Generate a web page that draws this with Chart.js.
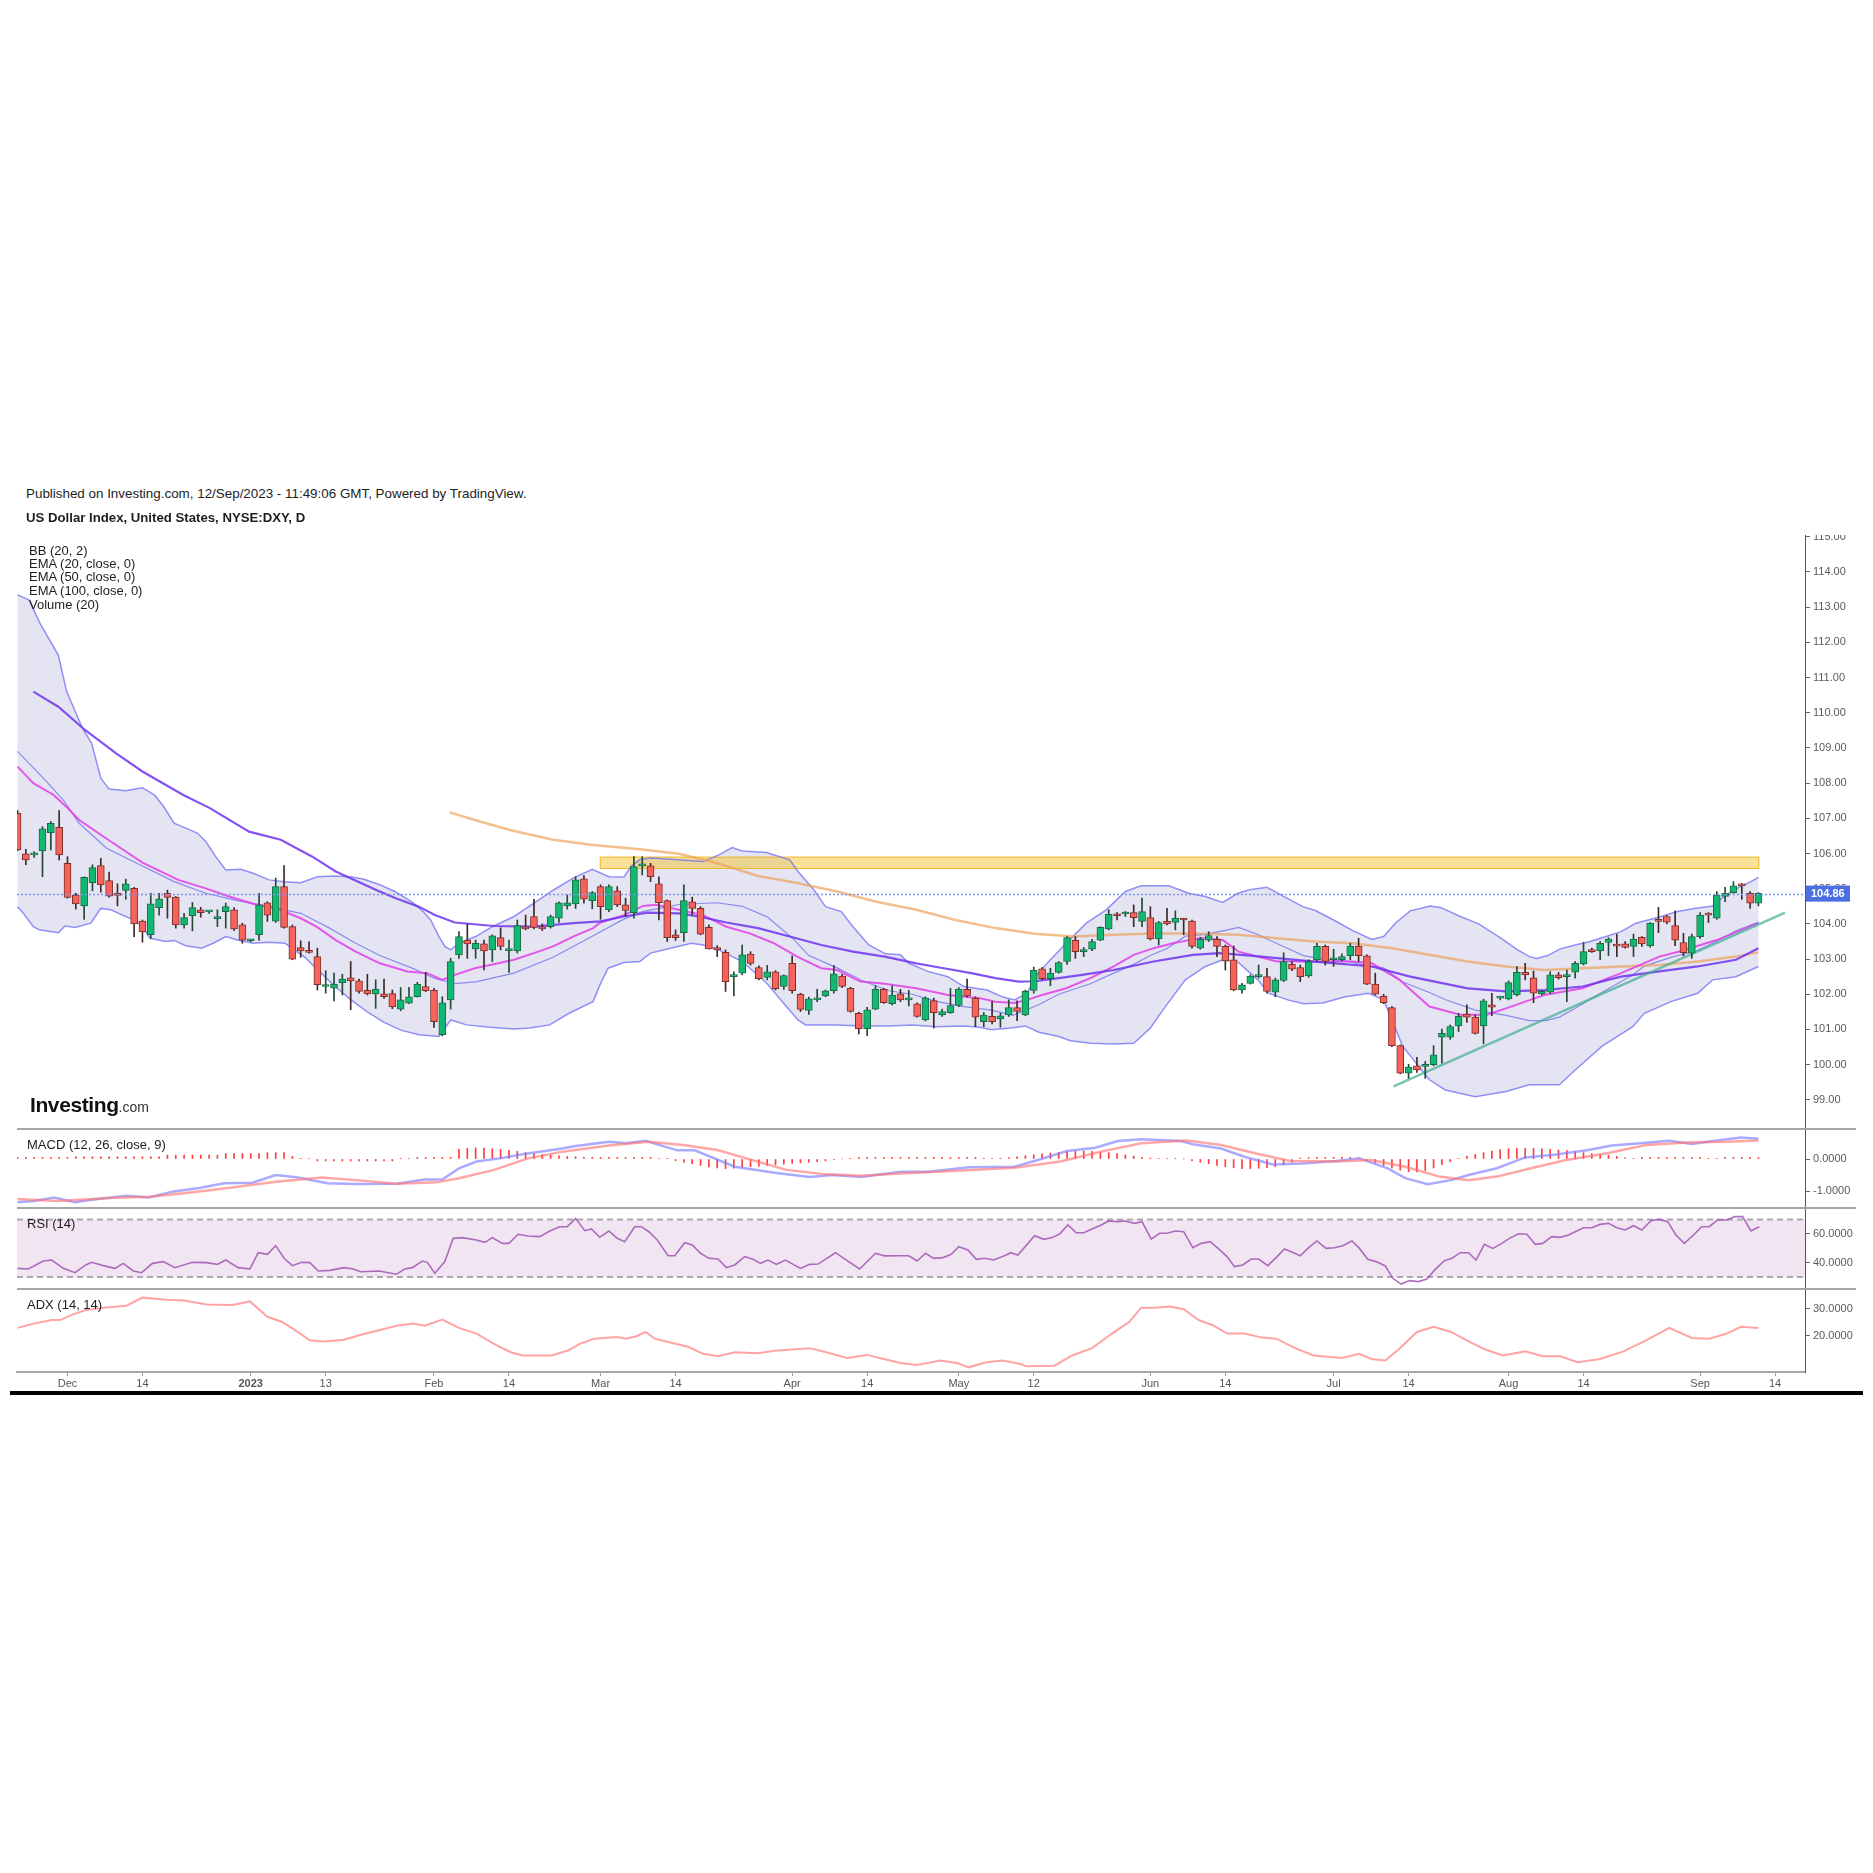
<!DOCTYPE html>
<html><head><meta charset="utf-8">
<script src="https://cdn.jsdelivr.net/npm/chart.js@4.4.1/dist/chart.umd.min.js"></script>
<style>
html,body{margin:0;padding:0;background:#fff;}
#wrap{position:relative;width:1873px;height:1873px;overflow:hidden;background:#fff;font-family:"Liberation Sans",Arial,Helvetica,sans-serif;}
canvas{position:absolute;left:0;}
.t{position:absolute;white-space:nowrap;color:#1e1e1e;font-size:13px;line-height:14px;z-index:5;}
.sep{position:absolute;background:#a6a6a6;height:2px;z-index:4;}
</style></head><body><div id="wrap">
<div class="t" style="left:26px;top:487px;font-size:13.4px;">Published on Investing.com, 12/Sep/2023 - 11:49:06 GMT, Powered by TradingView.</div>
<div class="t" style="left:26px;top:511px;font-weight:bold;font-size:13.2px;">US Dollar Index, United States, NYSE:DXY, D</div>
<div class="t" style="left:29px;top:544px;">BB (20, 2)</div>
<div class="t" style="left:29px;top:557px;">EMA (20, close, 0)</div>
<div class="t" style="left:29px;top:570px;">EMA (50, close, 0)</div>
<div class="t" style="left:29px;top:584px;">EMA (100, close, 0)</div>
<div class="t" style="left:29px;top:598px;">Volume (20)</div>
<div class="t" style="left:30px;top:1093px;line-height:24px;color:#111;"><span style="font-weight:bold;font-size:21px;letter-spacing:-0.4px;">Investing</span><span style="font-size:14px;color:#333;">.com</span></div>
<div class="t" style="left:27px;top:1138px;">MACD (12, 26, close, 9)</div>
<div class="t" style="left:27px;top:1217px;">RSI (14)</div>
<div class="t" style="left:27px;top:1298px;">ADX (14, 14)</div>
<canvas id="cMain" width="1873" height="593" style="top:535px"></canvas>
<canvas id="cMacd" width="1873" height="80" style="top:1128px"></canvas>
<canvas id="cRsi" width="1873" height="81" style="top:1208px"></canvas>
<canvas id="cAdx" width="1873" height="106" style="top:1289px"></canvas>
<div class="sep" style="left:17px;top:1128px;width:1839px;"></div>
<div class="sep" style="left:17px;top:1207px;width:1839px;"></div>
<div class="sep" style="left:17px;top:1288px;width:1839px;"></div>
<div style="position:absolute;left:10px;top:1391px;width:1853px;height:4px;background:#000;"></div>
</div>
<script>
// ---------------- DATA ----------------
const xTickIdx = [6,15,28,37,50,59,70,79,93,102,113,122,136,145,158,167,179,188,202,211];
const xTickLabels = ['Dec','14','2023','13','Feb','14','Mar','14','Apr','14','May','12','Jun','14','Jul','14','Aug','14','Sep','14'];
const priceTicks = [99,100,101,102,103,104,105,106,107,108,109,110,111,112,113,114,115];
const macdTicks = [0,-1];
const rsiTicks = [60,40];
const adxTicks = [30,20];
const lastPrice = 104.86;
const zoneX = [69.9, 209.1];
const zoneY = [105.56, 105.91];
const trendLine = [[165.2,99.38],[212.2,104.32]];

const opens = [
107.14,105.99,105.96,106.07,106.59,106.74,105.72,104.82,104.51,105.17,
105.66,105.23,104.87,104.95,105.01,104.08,103.69,104.46,104.87,104.76,
103.97,104.23,104.40,104.34,104.15,104.35,104.40,103.97,103.52,103.69,
104.60,104.08,105.06,103.92,103.33,103.24,103.07,102.22,102.17,102.33,
102.47,102.38,102.11,102.01,102.01,102.02,101.58,101.75,101.93,102.22,
102.11,100.85,101.84,103.12,103.54,103.29,103.43,103.26,103.61,103.24,
103.23,103.90,104.21,103.90,103.92,104.16,104.51,104.57,105.28,104.66,
105.06,104.40,104.94,104.54,104.32,105.65,105.65,105.14,104.66,103.69,
103.75,104.63,104.44,103.90,103.33,103.19,102.50,102.60,103.14,102.76,
102.48,102.64,102.22,102.88,102.00,101.54,101.84,101.95,102.10,102.52,
102.17,101.46,101.02,101.58,102.14,101.73,102.01,101.84,101.73,101.27,
101.82,101.41,101.48,101.68,102.14,101.89,101.22,101.37,101.30,101.41,
101.62,101.41,102.11,102.72,102.44,102.62,102.93,103.53,103.21,103.28,
103.54,103.86,104.27,104.28,104.32,104.07,104.18,103.57,104.07,104.04,
104.14,104.08,103.31,103.54,103.56,103.36,102.98,102.12,102.31,102.50,
102.50,102.06,102.39,102.85,102.76,102.52,102.98,103.36,102.98,102.98,
103.10,103.37,103.09,102.29,101.95,101.62,100.54,99.76,99.97,99.95,
100.00,100.78,100.78,101.10,101.44,101.35,101.10,101.70,101.89,101.87,
101.98,102.62,102.47,102.01,102.06,102.55,102.50,102.63,102.86,103.26,
103.23,103.47,103.42,103.43,103.36,103.62,103.38,104.13,104.21,103.95,
103.47,103.17,103.64,104.30,104.16,104.78,104.89,105.11,104.87,104.59];
const closes = [
106.10,105.82,105.96,106.70,106.86,105.96,104.75,104.57,105.32,105.60,
105.11,104.79,104.81,105.14,104.00,103.77,104.57,104.71,104.75,103.97,
104.18,104.46,104.32,104.34,104.21,104.49,103.86,103.54,103.52,104.54,
104.25,105.06,103.90,103.00,103.23,103.19,102.27,102.22,102.29,102.43,
102.38,102.08,102.01,102.15,101.93,101.64,101.84,101.93,102.29,102.10,
101.22,101.76,102.93,103.64,103.43,103.45,103.23,103.66,103.36,103.24,
103.95,103.86,103.90,103.86,104.21,104.60,104.60,105.25,104.70,104.89,
104.49,105.06,104.54,104.38,105.63,105.69,105.34,104.60,103.61,103.61,
104.66,104.44,103.71,103.29,103.26,102.36,102.55,103.12,102.88,102.44,
102.64,102.16,102.53,102.10,101.57,101.87,101.84,102.10,102.58,102.22,
101.51,101.02,101.56,102.14,101.76,101.98,101.84,101.84,101.37,101.89,
101.48,101.51,101.68,102.15,101.95,101.35,101.41,101.22,101.39,101.62,
101.51,102.08,102.69,102.44,102.60,102.90,103.61,103.21,103.21,103.50,
103.90,104.27,104.23,104.28,104.18,104.35,103.57,104.04,104.00,104.16,
104.11,103.36,103.56,103.67,103.36,102.95,102.12,102.27,102.52,102.55,
102.08,102.41,102.93,102.71,102.50,102.93,103.36,102.93,102.98,103.07,
103.37,103.10,102.29,102.00,101.76,100.54,99.76,99.93,99.85,99.95,
100.28,100.89,101.08,101.37,101.35,100.89,101.81,101.63,101.89,102.33,
102.62,102.55,102.03,102.08,102.55,102.47,102.50,102.88,103.21,103.21,
103.45,103.57,103.37,103.33,103.57,103.43,104.02,104.07,104.05,103.54,
103.18,103.64,104.25,104.25,104.82,104.87,105.08,105.08,104.59,104.87];
const highs = [
107.22,106.12,106.05,106.76,106.91,107.22,105.91,104.87,105.34,105.68,
105.86,105.47,105.14,105.27,105.04,104.11,104.87,104.87,104.96,104.78,
104.30,104.61,104.47,104.38,104.40,104.59,104.46,104.02,103.55,104.87,
104.63,105.30,105.66,103.97,103.52,103.49,103.31,102.67,102.60,102.57,
102.93,102.43,102.57,102.41,102.43,102.12,102.19,102.20,102.34,102.62,
102.17,101.93,103.02,103.78,103.99,103.54,103.54,103.69,103.89,103.54,
104.11,104.25,104.70,104.00,104.25,104.63,104.82,105.34,105.37,104.92,
105.11,105.11,105.06,104.73,105.91,105.91,105.72,105.34,104.68,103.83,
105.11,104.76,104.49,103.97,103.38,103.26,102.64,103.40,103.21,102.81,
102.82,102.67,102.55,103.09,102.03,101.92,102.14,102.12,102.82,102.57,
102.20,101.49,101.63,102.25,102.17,102.24,102.14,102.11,101.76,101.93,
101.89,101.58,102.17,102.19,102.43,101.93,101.48,101.79,101.46,101.84,
101.81,102.12,102.77,102.76,102.74,102.93,103.64,103.64,103.33,103.56,
103.92,104.40,104.32,104.35,104.54,104.73,104.49,104.07,104.44,104.37,
104.16,104.11,103.62,103.78,103.64,103.40,103.37,102.31,102.55,102.83,
102.74,102.46,103.18,102.93,102.83,102.98,103.45,103.40,103.28,103.15,
103.45,103.59,103.12,102.60,102.00,101.65,100.56,100.01,100.21,100.09,
100.54,101.01,101.13,101.46,101.70,101.41,101.86,102.03,101.93,102.38,
102.79,102.88,102.66,102.12,102.64,102.62,102.69,102.93,103.47,103.31,
103.50,103.61,103.71,103.50,103.71,103.64,104.04,104.47,104.24,104.37,
103.73,103.71,104.32,104.32,104.92,105.04,105.20,105.15,104.92,104.89];
const lows = [
106.08,105.68,105.89,105.34,106.10,105.82,104.73,104.42,104.13,104.94,
104.90,104.76,104.51,104.70,103.64,103.48,103.59,104.25,104.16,103.88,
103.88,103.80,104.19,104.30,103.92,103.88,103.81,103.45,103.49,103.53,
104.07,104.04,103.88,102.98,103.05,103.17,102.12,102.03,101.81,101.98,
101.56,102.03,101.98,101.60,101.88,101.59,101.53,101.73,101.92,102.07,
101.06,100.82,101.58,103.02,103.02,103.02,102.69,102.93,103.26,102.62,
103.17,103.83,103.86,103.81,103.88,104.04,104.42,104.44,104.59,104.43,
104.13,104.35,104.49,104.21,104.16,105.39,105.20,104.11,103.50,103.53,
103.50,104.25,103.69,103.28,103.07,102.08,101.95,102.55,102.83,102.41,
102.41,102.12,102.14,102.03,101.51,101.43,101.79,101.93,102.03,102.19,
101.49,100.87,100.82,101.56,101.74,101.70,101.79,101.67,101.35,101.24,
101.04,101.37,101.46,101.65,101.92,101.08,101.08,101.16,101.06,101.37,
101.25,101.39,102.03,102.41,102.24,102.60,102.85,103.02,103.07,103.24,
103.52,103.83,104.11,104.21,103.92,103.92,103.54,103.40,103.97,103.83,
103.69,103.31,103.28,103.50,103.07,102.69,102.10,102.03,102.29,102.46,
102.03,101.93,102.36,102.67,102.36,102.48,102.93,102.83,102.79,102.95,
102.98,102.93,102.27,101.98,101.73,100.51,99.74,99.61,99.78,99.61,
99.97,100.04,100.72,100.94,101.20,100.87,100.59,101.39,101.84,101.84,
101.95,102.41,101.76,101.98,102.03,102.43,101.79,102.46,102.83,103.19,
102.98,103.10,103.07,103.31,103.07,103.36,103.34,103.75,104.00,103.38,
103.09,103.02,103.59,104.04,104.13,104.63,104.87,104.70,104.44,104.51];

const bbUpper = [[0,113.35],[1.4,113.2],[2.7,112.54],[4.9,111.64],[5.9,110.6],[7.8,109.56],[8.9,109.13],[10,108.14],[11,107.83],[13,107.78],[15,107.87],[16.5,107.65],[17.5,107.35],[18.8,106.86],[20.2,106.72],[21.6,106.58],[22.6,106.34],[23.8,105.91],[25,105.53],[26.8,105.55],[28.3,105.44],[30.2,105.25],[32,105.2],[34,105.17],[36,105.34],[38,105.36],[40,105.34],[41.6,105.27],[43.5,105.11],[45.3,104.92],[47.3,104.63],[48.7,104.35],[49.6,104.11],[50.6,103.64],[51.3,103.36],[52,103.26],[53,103.45],[55,103.64],[57,103.92],[59.6,104.21],[62,104.59],[64.4,104.97],[66.7,105.30],[69,105.55],[71,105.34],[72.8,105.33],[73.7,105.65],[74.7,105.82],[76,105.87],[79.4,105.82],[82.3,105.77],[84.2,105.96],[85.8,106.17],[87,106.07],[89.9,106.03],[92.7,105.82],[93.7,105.49],[95.6,104.97],[97,104.49],[98.9,104.35],[100.3,103.92],[102.2,103.40],[104.2,103.15],[106,103.12],[107,102.88],[109.3,102.65],[111.7,102.50],[113.6,102.22],[116.4,102.12],[118.3,101.92],[119.7,101.84],[121.2,102.03],[122.2,102.50],[123.6,102.88],[125.9,103.45],[128.3,104.02],[130.7,104.40],[133,104.92],[134.9,105.08],[138.2,105.08],[140.6,104.87],[142.6,104.78],[144.7,104.61],[146.5,104.87],[147.9,104.97],[150,105.04],[152,104.78],[154.3,104.49],[155.8,104.38],[158,104.11],[160.3,103.81],[162.6,103.56],[164,103.64],[165.4,104.02],[167.2,104.37],[169.6,104.51],[170.9,104.46],[173.2,104.21],[175.4,104.00],[177.8,103.64],[180.1,103.26],[181.5,103.07],[182.4,103.02],[183.7,103.10],[185.2,103.29],[187,103.40],[188.8,103.50],[190.7,103.64],[192.5,103.78],[194.3,104.02],[197,104.19],[199.3,104.35],[201.3,104.44],[203.5,104.51],[204.9,104.78],[206.8,105.06],[208.1,105.20],[209,105.32]];
const bbLower = [[0,104.49],[0.7,104.30],[1.9,103.92],[2.6,103.83],[4.9,103.75],[5.7,103.94],[6.9,103.90],[8.8,104.02],[10,104.44],[11.2,104.40],[12.6,104.25],[14,104.11],[15,103.92],[15.9,103.59],[17.8,103.50],[18.8,103.53],[20.2,103.38],[22.1,103.31],[23.5,103.45],[25,103.64],[26.4,103.54],[28.3,103.45],[30.2,103.48],[32.1,103.45],[33,103.3],[34.5,103.05],[36,102.7],[38,102.25],[40,101.85],[42,101.5],[44,101.2],[46,100.98],[48.2,100.85],[49.6,100.82],[50.6,100.80],[52,101.27],[53.9,101.13],[56.7,101.06],[59.6,101.01],[61.5,101.04],[63.9,101.13],[66.2,101.46],[69.1,101.79],[70,102.31],[70.9,102.74],[72.8,102.90],[74.7,102.93],[76,103.17],[78.4,103.31],[80.9,103.45],[82.3,103.40],[84.2,103.26],[87,102.93],[89.9,102.33],[92.3,101.65],[93.7,101.27],[94.6,101.13],[98.4,101.13],[101.3,101.10],[104.6,101.10],[107.4,101.13],[110.3,101.08],[113.6,101.10],[115.5,101.06],[116.9,100.99],[119.3,101.04],[121,101.10],[122.6,100.92],[125,100.80],[126.4,100.68],[128.8,100.61],[131.6,100.59],[134,100.61],[136,101.04],[137.8,101.65],[140.2,102.41],[142.6,102.79],[144.7,102.98],[146.6,102.90],[148.9,102.41],[150.2,102.03],[152.5,101.84],[154.4,101.73],[156.7,101.75],[159.4,101.93],[162.2,102.03],[164,101.84],[166.3,100.52],[169.5,99.57],[171.4,99.28],[175,99.09],[178.7,99.24],[181.5,99.43],[185.1,99.43],[187,99.85],[190.2,100.52],[193.9,101.08],[195.3,101.46],[198.5,101.79],[201.7,102.03],[203.5,102.41],[206.3,102.50],[209,102.79]];
const bbBasis = [[0,108.9],[3.3,108.09],[5.5,107.52],[7.4,106.86],[10.7,106.15],[14.5,105.7],[18.8,105.2],[22.6,104.87],[26.4,104.66],[30.2,104.49],[34,104.3],[37.3,103.9],[40.6,103.45],[43.5,103.1],[47.3,102.75],[50.1,102.45],[52.5,102.3],[55,102.35],[59.6,102.6],[64.3,103.05],[69,103.65],[72.5,104.1],[75,104.35],[79.4,104.55],[84,104.6],[87,104.5],[90,104.2],[93,103.6],[95,103.1],[98.4,102.75],[101.3,102.4],[104.6,102.1],[107.4,102.0],[110.3,101.8],[113.6,101.65],[116.9,101.55],[119.5,101.4],[122.6,101.7],[125,102.0],[128.8,102.3],[131.6,102.6],[134,102.85],[136,103.1],[138,103.3],[140.2,103.65],[142.6,103.7],[144.7,103.8],[146.6,103.9],[148.9,103.7],[150.2,103.55],[152.5,103.3],[154.4,103.1],[156.7,103.0],[159.4,102.95],[162.2,102.8],[164,102.75],[166.3,102.35],[169.5,102.05],[171.4,101.85],[175,101.55],[178.7,101.4],[181.5,101.25],[183.5,101.25],[185.1,101.35],[187,101.6],[190.2,102.05],[193.9,102.55],[195.3,102.8],[198.5,103.05],[201.7,103.25],[203.5,103.45],[206.3,103.8],[209,104.05]];
const ema20 = [[0,108.47],[1.9,108.0],[4.3,107.67],[6,107.3],[7.4,106.95],[11.2,106.34],[15,105.74],[19.3,105.25],[22.6,105.01],[25.4,104.78],[28.3,104.57],[31.1,104.44],[34,104.16],[35.9,103.92],[38.2,103.54],[40.6,103.21],[43.5,102.88],[46.8,102.65],[49.2,102.60],[51,102.41],[52.5,102.55],[54.9,102.74],[57.7,102.88],[59.6,102.98],[62,103.17],[64.3,103.36],[66.7,103.64],[69.1,103.88],[70,104.04],[72.8,104.25],[75.1,104.51],[76.6,104.54],[79.4,104.40],[82.3,104.25],[85.1,103.92],[87.9,103.73],[90.8,103.45],[93.6,103.07],[96.5,102.74],[98.4,102.69],[101.2,102.36],[104.1,102.30],[107.9,102.17],[111.7,101.98],[115.5,101.89],[117.4,101.79],[119.7,101.75],[121.2,101.84],[123,101.98],[125.9,102.17],[128.8,102.46],[131.6,102.79],[134,103.12],[136.4,103.31],[138.7,103.45],[141.1,103.56],[142,103.6],[144.7,103.54],[146.6,103.21],[148.9,103.07],[151.2,102.93],[160.3,102.93],[162.6,102.88],[165.9,102.41],[169.5,101.65],[173.2,101.42],[176.4,101.42],[178.7,101.60],[181,101.79],[183.3,101.98],[187.9,102.17],[192.5,102.60],[197.1,103.07],[199.4,103.21],[204,103.54],[209,104.02]];
const ema50 = [[1.9,110.6],[4.9,110.17],[8.1,109.51],[11.8,108.85],[15,108.33],[19.9,107.66],[23.1,107.29],[27.8,106.62],[31.6,106.39],[35.4,105.91],[38.2,105.49],[43,104.97],[45.4,104.73],[48.2,104.49],[50.1,104.25],[52.5,104.04],[57.2,103.94],[62,103.92],[66.7,104.02],[70,104.07],[72.8,104.21],[75.6,104.32],[79.4,104.30],[81.8,104.21],[85.1,104.04],[88.9,103.88],[92.7,103.64],[96.5,103.40],[100.3,103.21],[104.1,103.07],[107.9,102.88],[111.2,102.74],[114.5,102.60],[117.4,102.46],[120.2,102.36],[122.1,102.37],[125,102.46],[127.8,102.55],[131.6,102.69],[136.4,102.93],[141.1,103.12],[144.3,103.17],[148,103.1],[155.7,102.93],[162.6,102.79],[167.2,102.50],[174.1,102.17],[178.7,102.08],[183.3,102.12],[187.9,102.22],[192.5,102.50],[197.1,102.65],[201.7,102.79],[206.3,102.98],[209,103.31]];
const ema100 = [[51.9,107.17],[54.9,106.95],[59.1,106.67],[64.3,106.39],[69.1,106.24],[74.7,106.12],[79.4,105.99],[84.1,105.72],[88.9,105.36],[93.6,105.16],[98.4,104.92],[103.1,104.63],[107.9,104.40],[112.6,104.11],[117.4,103.88],[122.1,103.72],[126.9,103.64],[131.6,103.69],[136.4,103.73],[141.1,103.73],[146.6,103.69],[151.2,103.59],[155.7,103.50],[160.3,103.45],[165,103.31],[169.5,103.12],[174.1,102.93],[178.7,102.79],[183.3,102.69],[187.9,102.74],[192.5,102.79],[197.1,102.83],[201.7,102.93],[206.3,103.07],[209,103.19]];

const macdLine = [[0,-1.35],[2,-1.31],[4.4,-1.20],[6.9,-1.35],[9.6,-1.25],[13.1,-1.15],[15.8,-1.20],[18.6,-1.02],[22,-0.90],[24.8,-0.76],[28.2,-0.74],[31,-0.50],[33.7,-0.58],[37.2,-0.76],[40.6,-0.78],[45.5,-0.77],[48.9,-0.64],[51,-0.64],[53,-0.29],[55.1,-0.08],[57.9,0.02],[60.6,0.15],[62.7,0.23],[65.4,0.33],[66.8,0.40],[71,0.54],[73,0.49],[75.4,0.57],[79.2,0.27],[81.3,0.27],[86.1,-0.24],[90.9,-0.43],[95.1,-0.56],[97.8,-0.50],[101.3,-0.56],[106,-0.40],[109.4,-0.40],[114.2,-0.26],[119.7,-0.24],[122.5,-0.03],[126,0.25],[129.4,0.35],[132.1,0.56],[134.9,0.62],[139.7,0.56],[141.1,0.46],[144.5,0.33],[147.3,0.07],[150.7,-0.17],[154.2,-0.14],[158.3,-0.06],[161.1,0.02],[164.5,-0.29],[166.6,-0.60],[169.3,-0.79],[172.1,-0.66],[174.2,-0.50],[177.6,-0.29],[181,0.05],[184.5,0.13],[188.6,0.28],[191.4,0.42],[194.8,0.49],[198.3,0.57],[201,0.47],[203.8,0.57],[206.9,0.67],[209,0.63]];
const signalLine = [[0,-1.25],[4.8,-1.31],[11.7,-1.21],[15.8,-1.18],[20,-1.07],[25.5,-0.90],[31,-0.71],[36.5,-0.58],[40.6,-0.66],[45.5,-0.77],[50.3,-0.73],[53,-0.60],[57.2,-0.34],[61.3,0.02],[65.4,0.23],[71,0.42],[75.8,0.54],[79.9,0.44],[84,0.28],[87.5,0.02],[92.3,-0.34],[97.1,-0.48],[101.3,-0.52],[106,-0.45],[112.8,-0.37],[119.7,-0.27],[125.2,-0.08],[130.1,0.23],[134.9,0.49],[140.4,0.58],[144.5,0.44],[148.7,0.17],[152.8,-0.06],[158.3,-0.08],[162.5,-0.03],[166.6,-0.24],[170.7,-0.55],[174.2,-0.66],[177.6,-0.55],[181.7,-0.29],[185.9,-0.03],[190.7,0.17],[195.5,0.44],[201,0.52],[205.2,0.54],[209,0.58]];
const macdHist = [
0.05,0.05,0.05,0.05,0.05,0.05,0.05,0.07,0.07,0.07,
0.07,0.07,0.07,0.07,0.07,0.07,0.07,0.07,0.12,0.12,
0.12,0.12,0.12,0.12,0.12,0.17,0.17,0.17,0.17,0.17,
0.20,0.20,0.20,0.08,0.02,0.02,-0.06,-0.06,-0.06,-0.06,
-0.06,-0.06,-0.06,-0.06,-0.06,-0.06,0.01,0.01,0.05,0.05,
0.05,0.05,0.05,0.30,0.33,0.35,0.34,0.32,0.30,0.27,
0.24,0.20,0.17,0.14,0.12,0.10,0.08,0.07,0.05,0.05,
0.05,0.05,0.05,0.05,0.05,0.05,0.05,0.01,0.01,-0.05,
-0.10,-0.15,-0.20,-0.25,-0.28,-0.30,-0.29,-0.26,-0.24,-0.22,
-0.20,-0.18,-0.16,-0.14,-0.12,-0.10,-0.08,-0.06,-0.02,0.00,
0.01,0.05,0.05,0.05,0.05,0.05,0.05,0.05,0.05,0.05,
0.05,0.05,0.05,0.05,0.05,0.05,0.01,0.01,0.01,0.04,
0.07,0.10,0.13,0.16,0.19,0.21,0.23,0.25,0.25,0.24,
0.22,0.20,0.17,0.13,0.09,0.05,0.03,0.02,0.02,0.01,
0.00,-0.05,-0.10,-0.15,-0.20,-0.24,-0.27,-0.30,-0.30,-0.29,
-0.27,-0.24,-0.18,-0.10,0.03,0.04,0.05,0.05,0.05,0.06,
0.05,0.03,-0.05,-0.12,-0.20,-0.28,-0.35,-0.40,-0.40,-0.36,
-0.28,-0.18,-0.08,0.01,0.08,0.14,0.20,0.25,0.29,0.32,
0.33,0.33,0.33,0.32,0.30,0.28,0.26,0.23,0.20,0.17,
0.14,0.11,0.08,0.04,0.02,0.05,0.05,0.05,0.05,0.05,
0.05,0.05,0.05,0.01,0.02,0.05,0.05,0.05,0.05,0.05];
const rsiLine = [[0,36.0],[1.3,35.6],[3.1,41.1],[4.1,41.8],[5.5,36.0],[6.9,33.0],[8.2,38.4],[8.9,40.2],[10.3,37.9],[11.7,36.0],[12.7,39.5],[13.9,34.2],[14.9,33.0],[16.2,39.5],[17.5,40.7],[18.9,36.5],[21,40.2],[22.7,40.0],[24,38.8],[25,41.8],[26.5,36.5],[27.9,35.6],[28.9,46.9],[30,45.8],[31,51.8],[32,43.0],[33,37.9],[34.1,40.2],[35.1,40.0],[36.1,34.2],[37.5,34.6],[39.2,36.5],[40.3,35.6],[41.2,33.7],[43.4,34.2],[45.5,31.9],[46.5,35.6],[47.4,36.5],[48.6,41.1],[49.2,40.2],[50.1,32.6],[51.3,40.7],[52.3,56.9],[53.4,57.4],[55.1,55.7],[56.1,54.1],[57,57.4],[58.2,53.4],[59,53.4],[60.1,59.7],[61.3,58.5],[62.7,58.1],[63.9,62.0],[65.1,65.0],[66,65.0],[67,70.8],[68.1,62.2],[68.9,63.4],[69.9,57.6],[71,62.0],[72,56.9],[72.9,54.6],[74.1,65.0],[74.9,65.0],[75.8,61.5],[76.8,55.7],[78.1,44.8],[78.9,44.8],[80.1,53.9],[81,52.3],[82,46.5],[83,43.0],[84.1,42.5],[85.1,36.5],[86.1,38.4],[87.3,44.2],[88.3,42.3],[89.2,39.5],[90.1,41.8],[91.1,38.8],[92.2,41.8],[94,36.0],[95.1,38.8],[96.1,39.0],[98.2,46.9],[99.2,43.0],[101.1,35.6],[103,46.5],[104.1,44.7],[106,44.8],[107,44.8],[108,41.1],[109,46.5],[110,43.0],[111.1,43.5],[112.1,45.8],[113,51.1],[114.1,48.8],[115.1,42.3],[116.1,43.0],[117.2,41.8],[118.7,45.3],[119.2,46.9],[120.1,45.3],[122.1,58.7],[123.2,56.2],[124.2,57.4],[125.1,59.9],[126.1,66.2],[127.1,60.8],[128,60.8],[129,63.4],[130.1,66.2],[131,69.0],[132,68.5],[133,69.0],[134.1,67.3],[135,68.5],[136.1,56.4],[137.1,60.4],[138,60.4],[139,62.0],[140,61.5],[141.1,50.4],[142.1,53.4],[143.2,54.6],[144.2,49.5],[145.2,44.2],[146.1,37.2],[147.1,38.4],[148.1,42.5],[149,42.5],[150.1,37.9],[151.1,43.5],[152.1,49.5],[153.2,46.9],[154,44.8],[155,50.4],[156,55.1],[157.1,49.9],[158.1,50.4],[159.1,51.8],[160.2,55.1],[161.1,49.9],[162.1,42.3],[163.1,40.7],[164.2,37.7],[165.1,29.1],[166.1,25.1],[167.1,27.5],[168.2,26.8],[169.2,28.6],[170.2,35.3],[171.3,41.4],[172.2,43.0],[173.2,46.9],[174.2,46.9],[175.1,41.8],[176.1,52.7],[177.1,49.9],[178.2,53.4],[179.1,56.9],[180.2,60.1],[181.2,59.7],[182.2,52.7],[183.1,53.4],[184.2,58.1],[185.2,57.6],[186.2,59.2],[188,64.3],[189,64.3],[190,66.6],[191,67.3],[192,64.3],[193,62.7],[194,65.7],[195,62.7],[196.1,69.2],[197,70.1],[198.1,68.5],[199.1,59.2],[200.1,53.4],[201.2,59.2],[202.2,65.0],[203.1,65.0],[204.1,69.7],[205.2,69.7],[206.2,72.0],[207.1,72.0],[208.1,62.0],[209.1,65.0]];
const adxLine = [[0,23.0],[2,24.6],[4.1,25.9],[5.1,25.9],[6.5,27.8],[8.2,29.6],[10.3,30.5],[13.1,31.2],[15,34.2],[17.9,33.4],[20,33.1],[22.7,31.7],[25.8,31.5],[27.9,32.8],[30,27.1],[31.7,25.3],[33,22.8],[35.1,18.4],[36.8,18.0],[39.2,18.6],[41,20.3],[43.4,22.1],[45.5,23.8],[47.5,24.6],[48.9,23.8],[51,26.1],[53,23.0],[55.1,20.9],[57.2,17.1],[59.2,14.0],[60.6,12.8],[64.1,12.8],[66.1,14.6],[67.5,17.1],[69.2,19.0],[72,19.6],[73,19.0],[74.4,20.0],[75.4,21.5],[76.5,19.0],[78.5,17.5],[80.6,15.9],[82.3,13.4],[84.1,12.5],[86.1,14.0],[88.9,13.6],[90.9,14.5],[93,15.0],[95.1,15.5],[97.1,14.0],[99.6,11.9],[102,13.0],[104,11.5],[106,10.0],[108,9.3],[110.8,10.9],[112.8,10.0],[114.2,8.4],[116.3,10.3],[118.3,10.9],[120.4,9.6],[121.1,8.8],[124.5,9.0],[126.6,12.8],[129,15.5],[131.4,20.9],[133.5,25.3],[134.9,30.5],[136.6,30.5],[138.3,30.9],[140,29.9],[141.8,25.9],[143.5,24.0],[145.2,20.9],[147.3,20.9],[149.4,19.4],[151.1,19.0],[153.5,15.3],[155.6,12.8],[159,11.9],[161.1,13.4],[162.5,11.5],[164.2,10.9],[165.9,15.3],[168,21.5],[170,23.4],[172.1,21.5],[174.2,18.0],[176.2,15.0],[178.3,12.8],[181,14.3],[183.1,12.5],[185.2,12.5],[187.3,10.3],[190,11.5],[192.8,14.3],[195.5,18.4],[198.3,23.0],[201,19.3],[203.1,19.0],[205.2,20.9],[206.9,23.4],[209,23.0]];

// ---------------- CHARTS ----------------
Chart.defaults.font.family = '"Liberation Sans", Arial, Helvetica, sans-serif';
Chart.defaults.font.size = 11;
Chart.defaults.color = '#555';

const X_MIN = -0.06, X_MAX = 214.59, AXIS_W = 68;
const pts = a => a.map(p => ({x: p[0], y: p[1]}));
const idx = opens.map((_, i) => i);
const isUp = idx.map(i => closes[i] >= opens[i]);

function yAxis(min, max, vals, digits) {
  return {
    type: 'linear', position: 'right', min, max,
    afterFit(s) { s.width = AXIS_W; s.paddingTop = 0; s.paddingBottom = 0; },
    afterBuildTicks(s) { s.ticks = vals.map(v => ({value: v})); },
    grid: {drawOnChartArea: false, drawTicks: true, tickLength: 5, tickColor: '#666'},
    border: {display: true, color: '#555', width: 1},
    ticks: {padding: 3, color: '#5a5a5a', font: {size: 11}, autoSkip: false,
      callback: v => Number(v).toFixed(digits)}
  };
}
function xAxis(show) {
  if (!show) return {type: 'linear', min: X_MIN, max: X_MAX, offset: false, display: false};
  return {
    type: 'linear', min: X_MIN, max: X_MAX, offset: false, display: true,
    afterFit(s) { s.height = 23; s.paddingLeft = 0; s.paddingRight = 0; },
    afterBuildTicks(s) { s.ticks = xTickIdx.map(v => ({value: v})); },
    grid: {display: true, drawOnChartArea: false, drawTicks: true, tickLength: 4, tickColor: '#999'},
    border: {display: true, color: '#a8a8a8', width: 2},
    ticks: {padding: 1, autoSkip: false, maxRotation: 0, minRotation: 0, color: '#555',
      font: c => ({size: 11, weight: (c.tick && xTickLabels[xTickIdx.indexOf(c.tick.value)] === '2023') ? 'bold' : 'normal'}),
      callback: v => { const k = xTickIdx.indexOf(v); return k >= 0 ? xTickLabels[k] : ''; }}
  };
}
function opts(scales) {
  return {responsive: false, animation: false, devicePixelRatio: 1, events: [],
    layout: {padding: {left: 17, right: 0, top: 0, bottom: 0}},
    plugins: {legend: {display: false}, tooltip: {enabled: false}},
    scales};
}
const lineDs = (data, color, width, order) => ({type: 'line', data: pts(data), borderColor: color,
  borderWidth: width, pointRadius: 0, tension: 0, fill: false, order});

const mainDecor = {
  id: 'mainDecor',
  beforeDatasetsDraw(chart) {
    const ctx = chart.ctx, a = chart.chartArea, xs = chart.scales.x, ys = chart.scales.y;
    const up = chart.getDatasetMeta(0).data, lo = chart.getDatasetMeta(1).data;
    ctx.save();
    ctx.beginPath(); ctx.rect(a.left, a.top, a.right - a.left, a.bottom - a.top); ctx.clip();
    ctx.beginPath();
    up.forEach((p, k) => k ? ctx.lineTo(p.x, p.y) : ctx.moveTo(p.x, p.y));
    for (let k = lo.length - 1; k >= 0; k--) ctx.lineTo(lo[k].x, lo[k].y);
    ctx.closePath();
    ctx.fillStyle = 'rgba(132,132,198,0.22)';
    ctx.fill();
    const x1 = xs.getPixelForValue(zoneX[0]), x2 = xs.getPixelForValue(zoneX[1]);
    const y1 = ys.getPixelForValue(zoneY[1]), y2 = ys.getPixelForValue(zoneY[0]);
    ctx.fillStyle = 'rgba(244,197,50,0.5)';
    ctx.fillRect(x1, y1, x2 - x1, y2 - y1);
    ctx.strokeStyle = 'rgba(238,180,30,0.85)'; ctx.lineWidth = 1;
    ctx.strokeRect(x1 + 0.5, y1 + 0.5, x2 - x1 - 1, y2 - y1 - 1);
    ctx.restore();
  },
  afterDatasetsDraw(chart) {
    const ctx = chart.ctx, a = chart.chartArea, ys = chart.scales.y;
    const y = Math.round(ys.getPixelForValue(lastPrice)) + 0.5;
    ctx.save();
    ctx.strokeStyle = '#7d95ea'; ctx.lineWidth = 1.5; ctx.setLineDash([2, 2]);
    ctx.beginPath(); ctx.moveTo(a.left, y); ctx.lineTo(a.right, y); ctx.stroke();
    ctx.restore();
  },
  afterDraw(chart) {
    const ctx = chart.ctx, a = chart.chartArea, ys = chart.scales.y;
    const y = ys.getPixelForValue(lastPrice);
    ctx.save();
    ctx.fillStyle = '#4a6fe3';
    ctx.fillRect(a.right + 1, y - 8, 44, 16);
    ctx.fillStyle = '#fff'; ctx.font = 'bold 11px "Liberation Sans", Arial, sans-serif';
    ctx.textBaseline = 'middle'; ctx.textAlign = 'left';
    ctx.fillText(lastPrice.toFixed(2), a.right + 6, y + 0.5);
    ctx.restore();
  }
};

new Chart(document.getElementById('cMain'), {
  type: 'line',
  data: {datasets: [
    lineDs(bbUpper, 'rgba(110,110,245,0.75)', 1.5, 6),
    lineDs(bbLower, 'rgba(110,110,245,0.75)', 1.5, 6),
    lineDs(bbBasis, 'rgba(100,100,240,0.7)', 1.2, 6),
    lineDs(ema100, 'rgba(236,156,80,0.65)', 2.5, 5),
    lineDs(ema50, 'rgba(112,52,240,0.85)', 2.2, 4),
    lineDs(ema20, 'rgba(226,62,232,0.85)', 2, 4),
    lineDs(trendLine, 'rgba(62,172,142,0.7)', 2.5, 3),
    {type: 'bar', data: idx.map(i => ({x: i, y: [lows[i], highs[i]]})),
      backgroundColor: idx.map(i => isUp[i] ? '#234a33' : '#3f2a27'),
      borderWidth: 0, barThickness: 1, grouped: false, order: 1},
    {type: 'bar', data: idx.map(i => ({x: i, y: [opens[i], closes[i]]})),
      backgroundColor: idx.map(i => isUp[i] ? '#12b872' : '#f7625b'),
      borderColor: idx.map(i => isUp[i] ? '#1c6a44' : '#7a2f29'),
      borderWidth: 1, borderSkipped: false, barThickness: 7, minBarLength: 2, grouped: false, order: 0}
  ]},
  options: opts({x: xAxis(false), y: yAxis(98.2, 115.05, priceTicks, 2)}),
  plugins: [mainDecor]
});

new Chart(document.getElementById('cMacd'), {
  type: 'line',
  data: {datasets: [
    {type: 'bar', data: idx.map(i => ({x: i, y: macdHist[i]})), backgroundColor: '#ff3b3b',
      borderWidth: 0, barThickness: 1, grouped: false, order: 3},
    lineDs(macdLine, 'rgba(125,125,255,0.65)', 2.5, 2),
    lineDs(signalLine, 'rgba(255,118,118,0.65)', 2.5, 1)
  ]},
  options: opts({x: xAxis(false), y: yAxis(-1.531, 0.969, macdTicks, 4)})
});

const rsiBand = {
  id: 'rsiBand',
  beforeDatasetsDraw(chart) {
    const ctx = chart.ctx, a = chart.chartArea, ys = chart.scales.y;
    const yt = ys.getPixelForValue(70), yb = ys.getPixelForValue(30);
    ctx.save();
    ctx.fillStyle = '#f1e5f2';
    ctx.fillRect(a.left, yt, a.right - a.left, yb - yt);
    ctx.strokeStyle = 'rgba(150,140,155,0.75)'; ctx.lineWidth = 2; ctx.setLineDash([6, 4]);
    [yt, yb].forEach(y => { ctx.beginPath(); ctx.moveTo(a.left, y); ctx.lineTo(a.right, y); ctx.stroke(); });
    ctx.restore();
  }
};
new Chart(document.getElementById('cRsi'), {
  type: 'line',
  data: {datasets: [lineDs(rsiLine, 'rgba(160,85,180,0.85)', 1.6, 1)]},
  options: opts({x: xAxis(false), y: yAxis(21.65, 78.0, rsiTicks, 4)}),
  plugins: [rsiBand]
});

new Chart(document.getElementById('cAdx'), {
  type: 'line',
  data: {datasets: [lineDs(adxLine, 'rgba(255,125,125,0.7)', 2, 1)]},
  options: opts({x: xAxis(true), y: yAxis(6.67, 37.4, adxTicks, 4)})
});
</script>
</body></html>
